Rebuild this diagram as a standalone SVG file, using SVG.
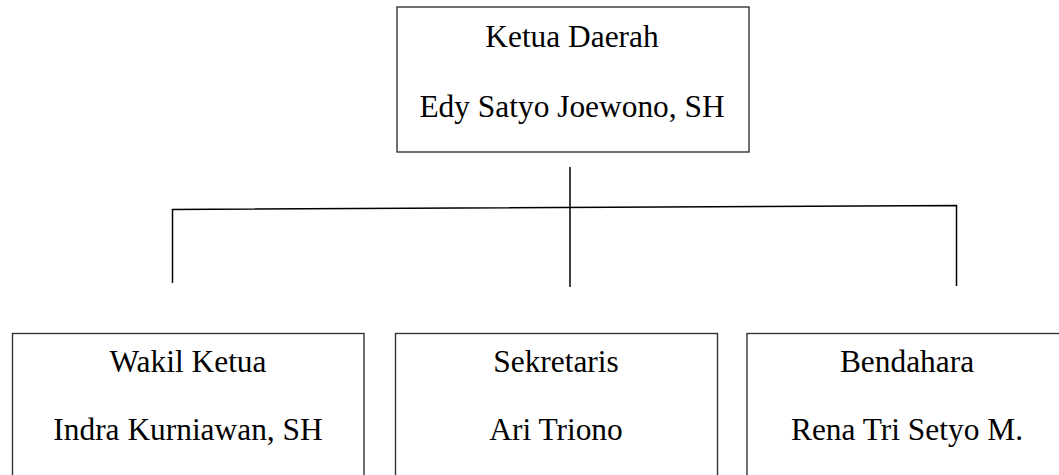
<svg xmlns="http://www.w3.org/2000/svg" width="1059" height="475" viewBox="0 0 1059 475">
<style>
.box{fill:#fff;stroke:#333;stroke-width:1.4}
.con{fill:none;stroke:#000;stroke-width:1.5}
.t{font-family:"Liberation Serif","Times New Roman",serif;font-size:31.4px;fill:#000;text-anchor:middle}
</style>
<rect width="1059" height="475" fill="#fff"/>
<g id="connectors">
<line class="con" x1="570" y1="167" x2="570" y2="287"/>
<polyline class="con" points="172.5,283 172.5,209.5 956.5,205.5 956.5,286"/>
</g>
<g id="ketua">
<rect class="box" x="397" y="7" width="352" height="145"/>
<text class="t" x="572" y="47">Ketua Daerah</text>
<text class="t" x="572" y="117">Edy Satyo Joewono, SH</text>
</g>
<g id="wakil">
<rect class="box" x="12.5" y="333.5" width="351.5" height="160"/>
<text class="t" x="188" y="372">Wakil Ketua</text>
<text class="t" x="188" y="440">Indra Kurniawan, SH</text>
</g>
<g id="sekretaris">
<rect class="box" x="395.5" y="333.5" width="322" height="160"/>
<text class="t" x="556" y="372">Sekretaris</text>
<text class="t" x="556" y="440">Ari Triono</text>
</g>
<g id="bendahara">
<rect class="box" x="747" y="333.5" width="330" height="160"/>
<text class="t" x="907" y="372">Bendahara</text>
<text class="t" x="907" y="440">Rena Tri Setyo M.</text>
</g>
</svg>
